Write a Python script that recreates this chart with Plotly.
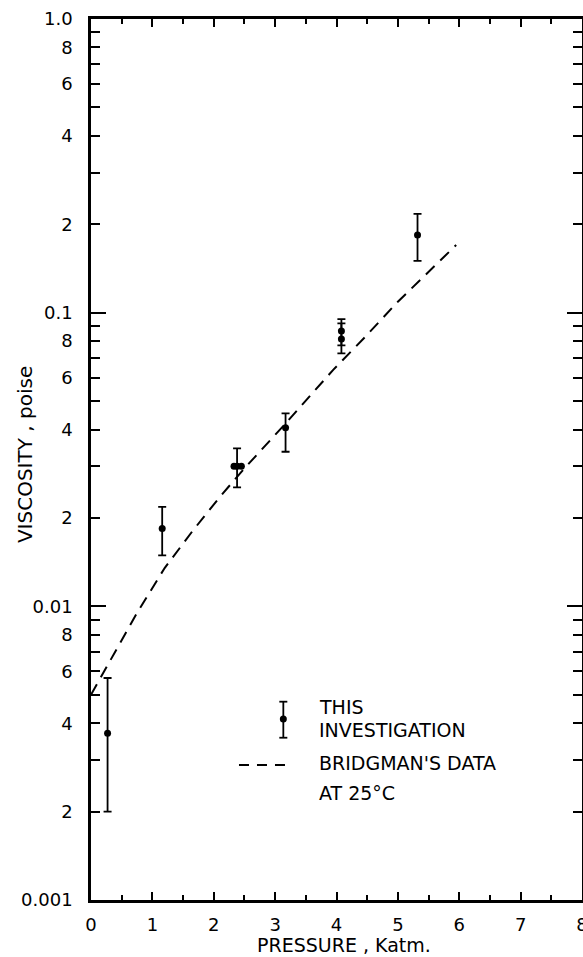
import plotly.graph_objects as go

# ---- data ----
pressure = [0.27, 1.16, 2.38, 3.17, 4.08, 4.08, 5.32]
viscosity = [0.0037, 0.0184, 0.030, 0.0406, 0.0866, 0.0813, 0.184]
visc_upper = [0.0057, 0.0218, 0.0345, 0.0454, 0.0950, 0.0920, 0.217]
visc_lower = [0.0020, 0.0149, 0.0254, 0.0336, 0.0774, 0.0727, 0.150]

extra_pressure = [2.33, 2.45]
extra_viscosity = [0.030, 0.030]

bridgman_p = [0.0, 0.25, 0.75, 1.2, 1.65, 2.1, 2.5, 3.15, 3.95, 4.45, 5.0, 5.95]
bridgman_v = [0.0050, 0.0062, 0.0095, 0.0135, 0.018, 0.0236, 0.0295, 0.0415, 0.064, 0.082, 0.109, 0.170]

x_tick_vals = [0, 1, 2, 3, 4, 5, 6, 7, 8]
x_tick_text = ["0", "1", "2", "3", "4", "5", "6", "7", "8"]

y_tick_vals = [0.001, 0.002, 0.004, 0.006, 0.008,
               0.01, 0.02, 0.04, 0.06, 0.08,
               0.1, 0.2, 0.4, 0.6, 0.8, 1.0]
y_tick_text = ["0.001", "2", "4", "6", "8",
               "0.01", "2", "4", "6", "8",
               "0.1", "2", "4", "6", "8", "1.0"]
y_minor_vals = [0.003, 0.005, 0.007, 0.009,
                0.03, 0.05, 0.07, 0.09,
                0.3, 0.5, 0.7, 0.9]
y_decades = [0.001, 0.01, 0.1, 1.0]

legend_lines = ["THIS", "INVESTIGATION", "BRIDGMAN'S DATA", "AT 25°C"]

err_plus = [u - v for u, v in zip(visc_upper, viscosity)]
err_minus = [v - l for v, l in zip(viscosity, visc_lower)]

FONT = "DejaVu Sans"
BLACK = "black"

fig = go.Figure()

fig.add_trace(go.Scatter(
    x=pressure, y=viscosity, mode="markers",
    marker=dict(color=BLACK, size=7),
    error_y=dict(type="data", array=err_plus, arrayminus=err_minus,
                 color=BLACK, thickness=1.8, width=4),
    showlegend=False, hoverinfo="skip"))

fig.add_trace(go.Scatter(
    x=extra_pressure, y=extra_viscosity, mode="markers",
    marker=dict(color=BLACK, size=7),
    showlegend=False, hoverinfo="skip"))

fig.add_trace(go.Scatter(
    x=bridgman_p, y=bridgman_v, mode="lines", yaxis="y2",
    line=dict(color=BLACK, width=2, dash="12px,8px"),
    showlegend=False, hoverinfo="skip"))

axis_common = dict(showgrid=False, zeroline=False, showline=True,
                   linecolor=BLACK, linewidth=2.5, ticks="inside",
                   tickcolor=BLACK, tickwidth=2, mirror="ticks", automargin=False)

fig.update_layout(
    width=583, height=957,
    margin=dict(l=91, r=1, t=19, b=57),
    paper_bgcolor="white", plot_bgcolor="white",
    font=dict(family=FONT, color=BLACK, size=18),
    xaxis=dict(range=[0, 8], tickvals=x_tick_vals, ticktext=x_tick_text,
               ticklen=8, ticklabelstandoff=7, ticklabeloverflow="allow",
               tickfont=dict(family=FONT, size=18, color=BLACK),
               minor=dict(dtick=0.5, ticklen=5, tickwidth=1.5, tickcolor=BLACK, ticks="inside"),
               **axis_common),
    yaxis=dict(type="log", range=[-3, 0], tickvals=y_tick_vals, ticktext=y_tick_text,
               ticklen=9, ticklabelstandoff=12,
               tickfont=dict(family=FONT, size=18, color=BLACK),
               minor=dict(tickvals=y_minor_vals, ticklen=9, tickwidth=2, tickcolor=BLACK, ticks="inside"),
               **axis_common),
    yaxis2=dict(type="log", range=[-3, 0], overlaying="y", side="left",
                tickvals=y_decades, ticklen=15, showticklabels=False,
                **axis_common),
)

# axis titles
fig.add_annotation(text="PRESSURE , Katm.", xref="paper", yref="paper",
                   x=0.515, y=-0.0516, xanchor="center", yanchor="middle",
                   borderpad=0, showarrow=False,
                   font=dict(family=FONT, size=19, color=BLACK))
fig.add_annotation(text="VISCOSITY , poise", xref="paper", yref="paper",
                   x=-0.1344, y=0.505, xanchor="center", yanchor="middle",
                   textangle=-90, showarrow=False,
                   font=dict(family=FONT, size=20, color=BLACK))

# legend text
legend_y = [0.2193, 0.1930, 0.1555, 0.1218]
for txt, ly in zip(legend_lines, legend_y):
    fig.add_annotation(text=txt, xref="paper", yref="paper", x=0.4603, y=ly,
                       xanchor="left", yanchor="middle", showarrow=False,
                       font=dict(family=FONT, size=19, color=BLACK))

# legend glyphs: error bar symbol
gx = 0.3917
gy_top, gy_bot, gy_mid = 0.2251, 0.1842, 0.2054
fig.add_shape(type="line", xref="paper", yref="paper", x0=gx, x1=gx, y0=gy_bot, y1=gy_top,
              line=dict(color=BLACK, width=1.8))
for cy in (gy_top, gy_bot):
    fig.add_shape(type="line", xref="paper", yref="paper", xsizemode="pixel", xanchor=gx,
                  x0=-4, x1=4, y0=cy, y1=cy, line=dict(color=BLACK, width=1.8))
fig.add_shape(type="circle", xref="paper", yref="paper", xsizemode="pixel", ysizemode="pixel",
              xanchor=gx, yanchor=gy_mid, x0=-3.5, x1=3.5, y0=-3.5, y1=3.5,
              fillcolor=BLACK, line=dict(color=BLACK, width=0))
# legend glyph: dashed line
fig.add_shape(type="line", xref="paper", yref="paper", x0=0.3014, x1=0.3951, y0=0.1532, y1=0.1532,
              line=dict(color=BLACK, width=2, dash="10px,8px"))

fig.write_html("out.html")
